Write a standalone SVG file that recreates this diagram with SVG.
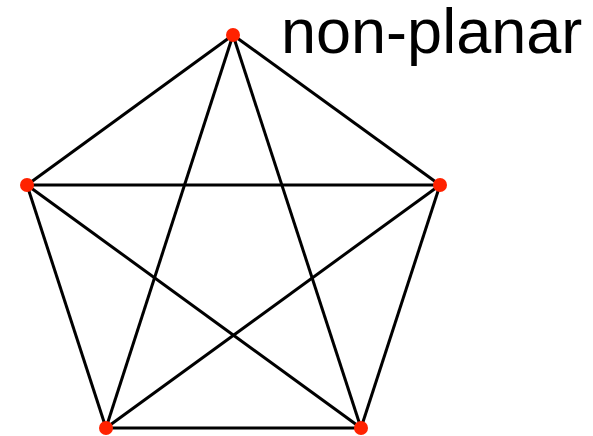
<svg xmlns="http://www.w3.org/2000/svg" width="593" height="436" viewBox="0 0 593 436">
<style>
.e{stroke:#000;stroke-width:3;fill:none}
.n{fill:#ff2200}
.t{font-family:"Liberation Sans",Arial,sans-serif;font-size:63px;fill:#000}
</style>
<rect width="593" height="436" fill="#fff"/>
<g id="edges">
<line class="e" x1="233" y1="35" x2="27" y2="185"/>
<line class="e" x1="233" y1="35" x2="440" y2="185"/>
<line class="e" x1="233" y1="35" x2="106" y2="428"/>
<line class="e" x1="233" y1="35" x2="361" y2="428"/>
<line class="e" x1="27" y1="185" x2="440" y2="185"/>
<line class="e" x1="27" y1="185" x2="106" y2="428"/>
<line class="e" x1="27" y1="185" x2="361" y2="428"/>
<line class="e" x1="440" y1="185" x2="106" y2="428"/>
<line class="e" x1="440" y1="185" x2="361" y2="428"/>
<line class="e" x1="106" y1="428" x2="361" y2="428"/>
</g>
<g id="n1"><circle class="n" cx="233" cy="35" r="7"/></g>
<g id="n2"><circle class="n" cx="27" cy="185" r="7"/></g>
<g id="n3"><circle class="n" cx="440" cy="185" r="7"/></g>
<g id="n4"><circle class="n" cx="106" cy="428" r="7"/></g>
<g id="n5"><circle class="n" cx="361" cy="428" r="7"/></g>
<text class="t" x="281" y="53">non-planar</text>
</svg>
